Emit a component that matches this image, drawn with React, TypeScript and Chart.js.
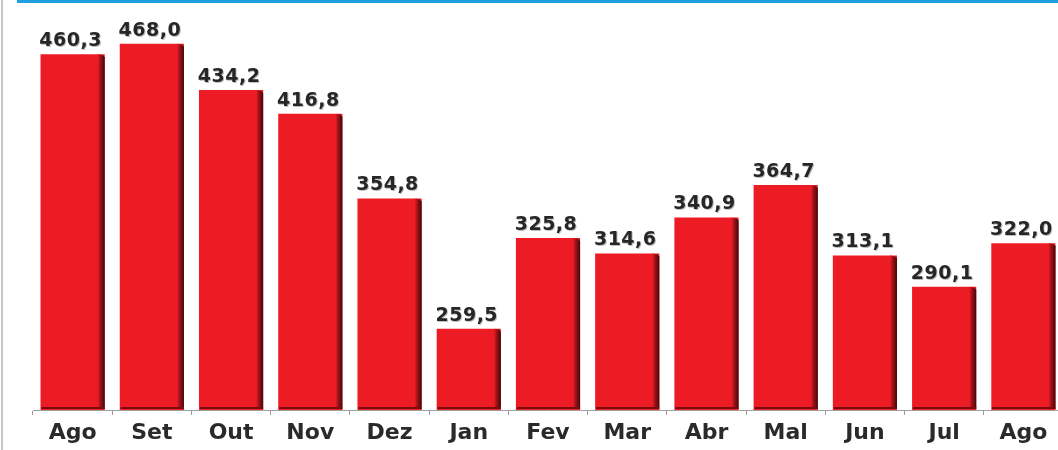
import React, { useEffect, useRef } from "react";
import { Chart, registerables } from "chart.js";

Chart.register(...registerables);

const categories = ["Ago", "Set", "Out", "Nov", "Dez", "Jan", "Fev", "Mar", "Abr", "Mal", "Jun", "Jul", "Ago"];
const values = [460.3, 468.0, 434.2, 416.8, 354.8, 259.5, 325.8, 314.6, 340.9, 364.7, 313.1, 290.1, 322.0];
const valueLabels = ["460,3", "468,0", "434,2", "416,8", "354,8", "259,5", "325,8", "314,6", "340,9", "364,7", "313,1", "290,1", "322,0"];
const yMin = 200;
const yMax = 500;

const decorPlugin = {
  id: "decor",
  beforeDraw(chart: any) {
    const ctx = chart.ctx;
    ctx.save();
    ctx.fillStyle = "#ffffff";
    ctx.fillRect(0, 0, chart.width, chart.height);
    ctx.fillStyle = "#c8c8c8";
    ctx.fillRect(1, 0, 2, chart.height);
    ctx.fillStyle = "#1f9ee0";
    ctx.fillRect(17, 0, chart.width - 17, 3);
    ctx.restore();
  },
  afterDatasetsDraw(chart: any) {
    const ctx = chart.ctx;
    const meta = chart.getDatasetMeta(0);
    const bottom = chart.chartArea.bottom - 1;
    ctx.save();
    meta.data.forEach((bar: any, i: number) => {
      const left = bar.x - bar.width / 2;
      const right = bar.x + bar.width / 2;
      const top = bar.y;
      const sw = 7;
      const g = ctx.createLinearGradient(right - sw, 0, right, 0);
      g.addColorStop(0, "rgba(237,28,36,1)");
      g.addColorStop(0.35, "#a3131a");
      g.addColorStop(1, "#45060a");
      ctx.fillStyle = g;
      ctx.beginPath();
      ctx.moveTo(right - sw, top);
      ctx.lineTo(right - 2, top + 1);
      ctx.lineTo(right, top + 3);
      ctx.lineTo(right, bottom);
      ctx.lineTo(right - sw, bottom);
      ctx.closePath();
      ctx.fill();
      ctx.fillStyle = "#7a0c10";
      ctx.fillRect(left + 1, bottom - 2, bar.width - 1, 2);
      // label
      ctx.font = "bold 19px 'DejaVu Sans'";
      (ctx as any).letterSpacing = "0.5px";
      ctx.textAlign = "center";
      ctx.textBaseline = "alphabetic";
      ctx.fillStyle = "rgba(150,150,150,0.6)";
      ctx.fillText(valueLabels[i], bar.x - 1, top - 7);
      ctx.fillStyle = "#262626";
      ctx.fillText(valueLabels[i], bar.x - 2, top - 8);
    });
    ctx.restore();
  },
};

export default function App() {
  const ref = useRef<HTMLCanvasElement>(null);
  useEffect(() => {
    if (!ref.current) return;
    const chart = new Chart(ref.current, {
      type: "bar",
      data: {
        labels: categories,
        datasets: [
          {
            data: values,
            backgroundColor: "#ed1c24",
            borderWidth: 0,
            categoryPercentage: 1,
            barPercentage: 0.81,
          },
        ],
      },
      options: {
        responsive: false,
        animation: false,
        layout: { padding: { left: 33, right: 7, top: 0, bottom: 0 } },
        plugins: { legend: { display: false }, tooltip: { enabled: false } },
        scales: {
          y: { display: false, min: yMin, max: yMax },
          x: {
            afterFit(scale: any) {
              scale.height = 40;
            },
            grid: {
              drawOnChartArea: false,
              drawTicks: true,
              tickLength: 5,
              color: "#9a9a9a",
              offset: true,
            },
            border: { display: true, color: "#a0a0a0", width: 1 },
            ticks: {
              color: "#2a2a2a",
              font: { family: "'DejaVu Sans'", size: 22, weight: "bold" },
              padding: 5,
              maxRotation: 0,
              autoSkip: false,
            },
          },
        },
      },
      plugins: [decorPlugin],
    });
    return () => chart.destroy();
  }, []);
  return (
    <div style={{ position: "fixed", left: 0, top: 0, width: 1058, height: 450, overflow: "hidden", background: "#fff" }}>
      <canvas ref={ref} width={1070} height={450} style={{ display: "block" }} />
    </div>
  );
}
